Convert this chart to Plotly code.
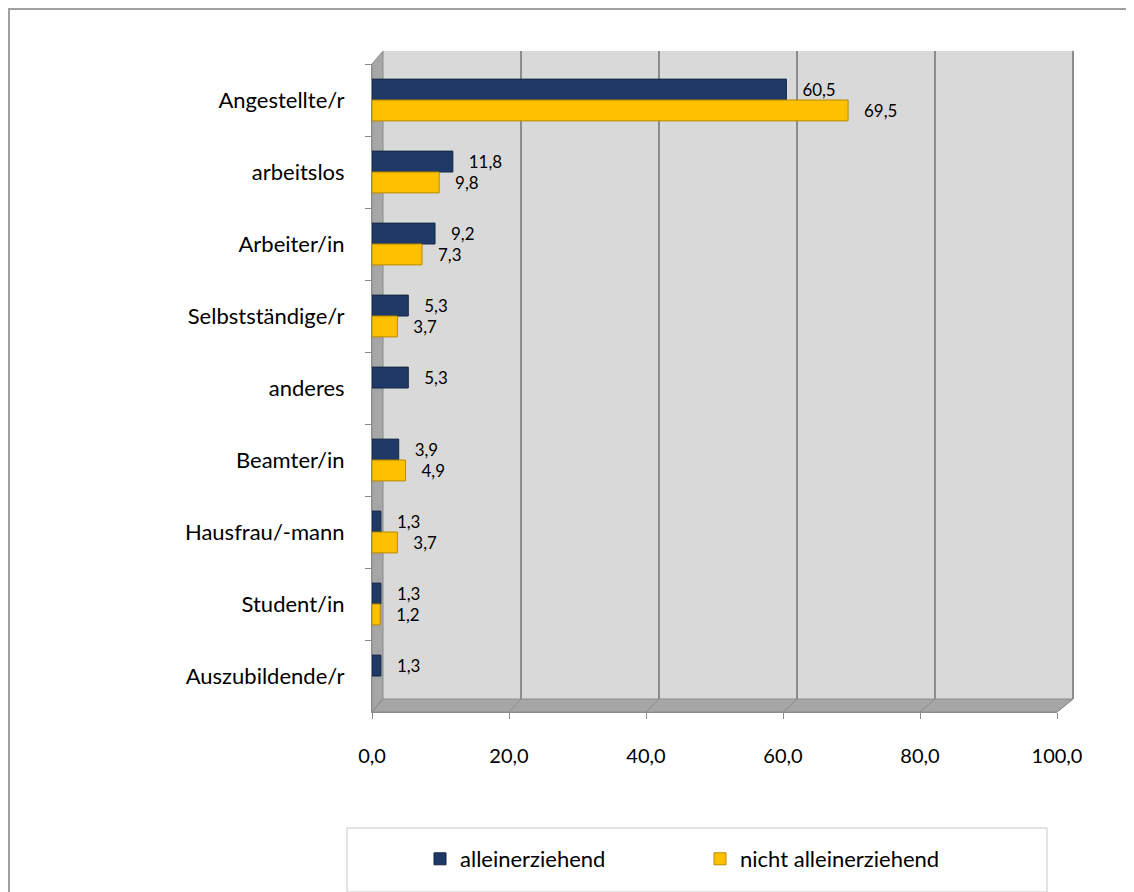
import plotly.graph_objects as go

categories = ["Angestellte/r", "arbeitslos", "Arbeiter/in", "Selbstständige/r", "anderes",
              "Beamter/in", "Hausfrau/-mann", "Student/in", "Auszubildende/r"]
allein = [60.5, 11.8, 9.2, 5.3, 5.3, 3.9, 1.3, 1.3, 1.3]
nicht_allein = [69.5, 9.8, 7.3, 3.7, None, 4.9, 3.7, 1.2, None]
x_ticks = [0, 20, 40, 60, 80, 100]
series_names = ["alleinerziehend", "nicht alleinerziehend"]

OFF = 8  # page body margin
W, H = 1134 - OFF, 892 - OFF
# reference-pixel geometry of the front plane
FL, FR, FT, FB = 372, 1057, 64, 712
L, R, T, B = FL - OFF, W - (FR - OFF), FT - OFF, H - (FB - OFF)
PW, PH = W - L - R, H - T - B
DX, DY = 11, 13  # 3D depth offset in px


def px(x):
    return (x - OFF - L) / PW


def py(y):
    return (H - B - (y - OFF)) / PH


FONT = "Lato, 'Open Sans', sans-serif"

fig = go.Figure()
fig.add_trace(go.Bar(
    y=categories, x=allein, orientation="h", name=series_names[0],
    marker=dict(color="#1f3a66", line=dict(color="#132746", width=1)),
    texttemplate="   %{x:.1f}", textposition="outside", cliponaxis=False,
    textfont=dict(size=17, color="#000000", family=FONT),
))
fig.add_trace(go.Bar(
    y=categories, x=nicht_allein, orientation="h", name=series_names[1],
    marker=dict(color="#ffc000", line=dict(color="#b88a00", width=1)),
    texttemplate="   %{x:.1f}", textposition="outside", cliponaxis=False,
    textfont=dict(size=17, color="#000000", family=FONT),
))

shapes = []
# outer chart border (top and left edges)
shapes.append(dict(type="path", xref="paper", yref="paper",
                   path=f"M {px(OFF+1)} {py(900)} L {px(OFF+1)} {py(OFF+1)} L {px(1140)} {py(OFF+1)}",
                   line=dict(color="#a0a0a0", width=2), layer="below"))
BR = FR + 16  # back wall right edge
# back wall
shapes.append(dict(type="rect", xref="paper", yref="paper",
                   x0=px(FL + DX), x1=px(BR), y0=py(FB - DY), y1=py(FT - DY),
                   line=dict(width=0), fillcolor="#d9d9d9", layer="below"))
# left wall
shapes.append(dict(type="path", xref="paper", yref="paper",
                   path=f"M {px(FL)} {py(FT)} L {px(FL+DX)} {py(FT-DY)} L {px(FL+DX)} {py(FB-DY)} L {px(FL)} {py(FB)} Z",
                   line=dict(color="#8c8c8c", width=1), fillcolor="#a6a6a6", layer="below"))
# floor
shapes.append(dict(type="path", xref="paper", yref="paper",
                   path=f"M {px(FL)} {py(FB)} L {px(FL+DX)} {py(FB-DY)} L {px(BR)} {py(FB-DY)} L {px(FR)} {py(FB)} Z",
                   line=dict(color="#8c8c8c", width=1), fillcolor="#a6a6a6", layer="below"))
# gridlines on back wall + floor diagonals
for v in x_ticks:
    bx = FL + DX + v * (BR - FL - DX) / 100.0
    fx = FL + v * (FR - FL) / 100.0
    if v > 0:
        shapes.append(dict(type="line", xref="paper", yref="paper",
                           x0=px(bx), x1=px(bx), y0=py(FB - DY), y1=py(FT - DY),
                           line=dict(color="#8c8c8c", width=2), layer="below"))
    shapes.append(dict(type="line", xref="paper", yref="paper",
                       x0=px(fx), x1=px(bx), y0=py(FB), y1=py(FB - DY),
                       line=dict(color="#8c8c8c", width=1), layer="below"))
# legend box
shapes.append(dict(type="rect", xref="paper", yref="paper",
                   x0=px(347), x1=px(1047), y0=py(892), y1=py(828),
                   line=dict(color="#c8c8c8", width=1), fillcolor="rgba(0,0,0,0)"))

fig.update_layout(
    width=W, height=H,
    margin=dict(l=L, r=R, t=T, b=B, autoexpand=False),
    paper_bgcolor="white", plot_bgcolor="rgba(0,0,0,0)",
    barmode="group", bargap=0.42, bargroupgap=0.0,
    separators=",.",
    font=dict(family=FONT, size=20, color="#000000"),
    showlegend=True,
    legend=dict(orientation="h", x=px(700), xanchor="center", y=py(859), yanchor="middle",
                font=dict(size=22, family=FONT), entrywidth=235, entrywidthmode="pixels",
                bgcolor="rgba(0,0,0,0)", traceorder="normal", itemwidth=30),
    shapes=shapes,
)
fig.update_xaxes(range=[0, 100], tickvals=x_ticks, ticktext=[f"{v},0" for v in x_ticks],
                 showgrid=False, zeroline=False, showline=True, linecolor="#8c8c8c",
                 ticks="outside", ticklen=6, tickcolor="#8c8c8c",
                 ticklabelstandoff=20, tickfont=dict(size=20, family=FONT))
fig.update_yaxes(categoryorder="array", categoryarray=categories, autorange="reversed",
                 showgrid=False, showline=True, linecolor="#8c8c8c",
                 ticks="outside", tickson="boundaries", ticklen=6, tickcolor="#8c8c8c",
                 ticklabelstandoff=22, tickfont=dict(size=22, family=FONT))

fig.write_html("out.html")
